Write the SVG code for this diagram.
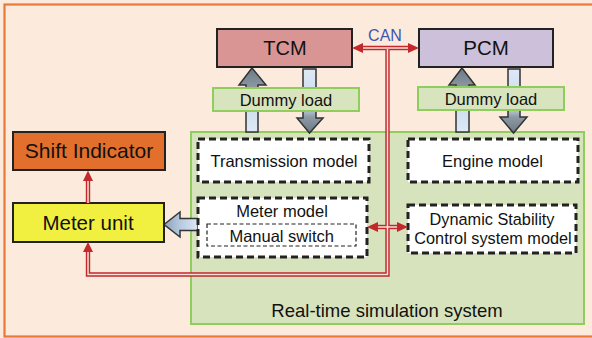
<svg xmlns="http://www.w3.org/2000/svg" width="592" height="338" viewBox="0 0 592 338">
<style>
text{font-family:"Liberation Sans",Arial,sans-serif;fill:#111;text-anchor:middle}
.solid{stroke:#222;stroke-width:2}
.dash{fill:#fff;stroke:#222;stroke-width:3;stroke-dasharray:7 4}
.thin{fill:#fff;stroke:#222;stroke-width:1.2;stroke-dasharray:4 2.5}
.dl{fill:#d7e4bd;stroke:#8fcd5c;stroke-width:2}
.blk{stroke:#333;stroke-width:1.5}
.red{fill:none;stroke:#c3282d;stroke-width:4.4}
.inner{fill:none;stroke:#f6e2da;stroke-width:1.5}
.ah{fill:#c3282d}
</style>
<defs>
<linearGradient id="gUp" x1="0" y1="1" x2="0" y2="0">
<stop offset="0" stop-color="#dde9f6"/>
<stop offset="0.55" stop-color="#c9d8ea"/>
<stop offset="0.68" stop-color="#8e9aa5"/>
<stop offset="1" stop-color="#6c7a86"/>
</linearGradient>
<linearGradient id="gDown" x1="0" y1="0" x2="0" y2="1">
<stop offset="0" stop-color="#dde9f6"/>
<stop offset="0.6" stop-color="#c9d8ea"/>
<stop offset="0.75" stop-color="#8e9aa5"/>
<stop offset="1" stop-color="#6c7a86"/>
</linearGradient>
<linearGradient id="gLeft" x1="1" y1="0" x2="0" y2="0">
<stop offset="0" stop-color="#dce8f5"/>
<stop offset="0.5" stop-color="#b8cbe0"/>
<stop offset="1" stop-color="#8ca2bc"/>
</linearGradient>
</defs>
<rect x="0" y="0" width="592" height="338" fill="#fcebdc"/>
<rect x="4.5" y="4.5" width="700" height="332" fill="none" stroke="#e8783a" stroke-width="2.2"/>

<g id="sim">
<rect x="191" y="132" width="393" height="192" fill="#d7e3bd" stroke="#8fcd5c" stroke-width="2"/>
<text x="387" y="317" font-size="18.5">Real-time simulation system</text>
</g>

<g id="arrows-block">
<polygon class="blk" fill="url(#gUp)" points="252,68 239,85 246,85 246,132 258,132 258,85 266,85"/>
<polygon class="blk" fill="url(#gDown)" points="303,69 316,69 316,118 323,118 309.5,133 297,118 303,118"/>
<polygon class="blk" fill="url(#gUp)" points="462,68 449,85 456,85 456,132 469,132 469,85 475,85"/>
<polygon class="blk" fill="url(#gDown)" points="508,69 520,69 520,117 527,117 513.5,133 500,117 508,117"/>
<polygon class="blk" fill="url(#gLeft)" points="164,224.5 180,212 180,218.5 198,218.5 198,230.5 180,230.5 180,237"/>
</g>

<g id="tcm">
<rect class="solid" x="217" y="29" width="135" height="38" fill="#d99594"/>
<text x="285" y="55" font-size="20">TCM</text>
</g>
<g id="pcm">
<rect class="solid" x="419" y="29" width="134" height="38" fill="#ccc0da"/>
<text x="486" y="55" font-size="20.5">PCM</text>
</g>
<g id="dummy1">
<rect class="dl" x="213" y="88" width="146" height="23"/>
<text x="286" y="106" font-size="16.5">Dummy load</text>
</g>
<g id="dummy2">
<rect class="dl" x="418" y="87" width="146" height="23"/>
<text x="491" y="105" font-size="16.5">Dummy load</text>
</g>
<g id="shift">
<rect class="solid" x="13" y="132" width="152" height="38" fill="#e36f2c"/>
<text x="89" y="158" font-size="21">Shift Indicator</text>
</g>
<g id="meterunit">
<rect class="solid" x="13" y="203" width="151" height="39" fill="#f1ef3f"/>
<text x="88" y="230" font-size="20.5">Meter unit</text>
</g>
<g id="trans">
<rect class="dash" x="198" y="139" width="171" height="43"/>
<text x="284" y="166.5" font-size="16.5">Transmission model</text>
</g>
<g id="engine">
<rect class="dash" x="408" y="139" width="170" height="43"/>
<text x="492.5" y="166.5" font-size="16.5">Engine model</text>
</g>
<g id="meter">
<rect class="dash" x="198" y="198" width="169" height="59"/>
<text x="282" y="217.3" font-size="16.5">Meter model</text>
</g>
<g id="manual">
<rect class="thin" x="207" y="224" width="149" height="22"/>
<text x="281.7" y="241.5" font-size="16.5">Manual switch</text>
</g>
<g id="dsc">
<rect class="dash" x="408" y="205" width="168" height="48"/>
<text x="492" y="225" font-size="16.3">Dynamic Stability</text>
<text x="493" y="244" font-size="16.3">Control system model</text>
</g>

<g id="connectors">
<path class="red" d="M362 48 H409"/>
<path class="red" d="M387.5 48 V274.5 H88 V251"/>
<path class="red" d="M377 227 H398"/>
<path class="red" d="M88 203 V180"/>
<path class="inner" d="M362 48 H409"/>
<path class="inner" d="M387.5 49 V274.5 H88 V251"/>
<path class="inner" d="M377 227 H398"/>
<path class="inner" d="M88 203 V180"/>
<polygon class="ah" points="352,48 363,43 363,53"/>
<polygon class="ah" points="419,48 408,43 408,53"/>
<polygon class="ah" points="88,242 83,252 93,252"/>
<polygon class="ah" points="367,227 378,222 378,232"/>
<polygon class="ah" points="408,227 397,222 397,232"/>
<polygon class="ah" points="88,170.5 83,181 93,181"/>
<text x="385" y="40.5" font-size="16" style="fill:#3d56b2">CAN</text>
</g>
</svg>
